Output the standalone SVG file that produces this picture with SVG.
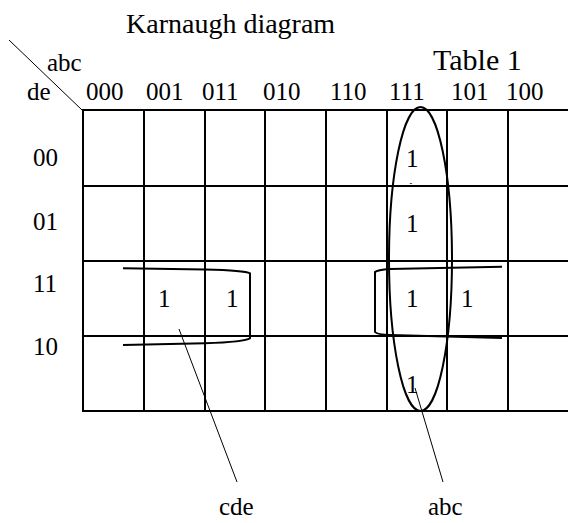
<svg xmlns="http://www.w3.org/2000/svg" width="568" height="523" viewBox="0 0 568 523">
  <style>
    text { font-family: "Liberation Serif", "Times New Roman", serif; fill: #000; }
    .lbl { font-size: 25px; }
    .title { font-size: 28px; }
    .grid line { stroke: #000; stroke-width: 2; }
    .loop { fill: none; stroke: #000; stroke-width: 2; }
    .leader { stroke: #000; stroke-width: 1; }
  </style>
  <defs>
    <clipPath id="tipClip">
      <rect x="395" y="170" width="30" height="14"/>
    </clipPath>
  </defs>
  <rect width="568" height="523" fill="#fff"/>

  <!-- headings -->
  <text class="title" x="126" y="33">Karnaugh diagram</text>
  <text class="title" x="433" y="70" style="font-size:30px">Table 1</text>

  <!-- corner: variable names split by a diagonal -->
  <line class="leader" x1="9" y1="40" x2="82" y2="110"/>
  <text class="lbl" x="47" y="71">abc</text>
  <text class="lbl" x="27" y="100">de</text>

  <!-- column labels -->
  <g id="col-labels" class="lbl">
    <text class="lbl" x="86" y="100">000</text>
    <text class="lbl" x="146" y="100">001</text>
    <text class="lbl" x="202" y="100">011</text>
    <text class="lbl" x="263" y="100">010</text>
    <text class="lbl" x="330" y="100">110</text>
    <text class="lbl" x="389" y="100">111</text>
    <text class="lbl" x="451" y="100">101</text>
    <text class="lbl" x="506" y="100">100</text>
  </g>

  <!-- row labels -->
  <g id="row-labels">
    <text class="lbl" x="33" y="166">00</text>
    <text class="lbl" x="33" y="230">01</text>
    <text class="lbl" x="33" y="292">11</text>
    <text class="lbl" x="33" y="355">10</text>
  </g>

  <!-- map grid -->
  <g id="grid" class="grid">
    <line x1="82" y1="110" x2="568" y2="110"/>
    <line x1="82" y1="186" x2="568" y2="186"/>
    <line x1="82" y1="261" x2="568" y2="261"/>
    <line x1="82" y1="336" x2="568" y2="336"/>
    <line x1="82" y1="411" x2="568" y2="411"/>
    <line x1="83" y1="110" x2="83" y2="411"/>
    <line x1="144" y1="110" x2="144" y2="411"/>
    <line x1="205" y1="110" x2="205" y2="411"/>
    <line x1="265" y1="110" x2="265" y2="411"/>
    <line x1="326" y1="110" x2="326" y2="411"/>
    <line x1="387" y1="110" x2="387" y2="411"/>
    <line x1="447" y1="110" x2="447" y2="411"/>
    <line x1="508" y1="110" x2="508" y2="411"/>
  </g>

  <!-- cell values -->
  <g id="cells">
    <text class="lbl" x="406" y="167">1</text>
    <text class="lbl" x="404" y="200" clip-path="url(#tipClip)">1</text>
    <text class="lbl" x="406" y="232">1</text>
    <text class="lbl" x="158" y="307">1</text>
    <text class="lbl" x="226" y="307">1</text>
    <text class="lbl" x="406" y="307">1</text>
    <text class="lbl" x="461" y="307">1</text>
    <text class="lbl" x="406" y="393">1</text>
  </g>

  <!-- groupings and their labels -->
  <g id="connectors">
    <ellipse class="loop" cx="420.5" cy="259" rx="31.5" ry="152"/>
    <path class="loop" d="M123,268.3 L205,269.5 Q245,270.5 250,273.3 L250,338.3 Q245,342 205,343.3 L123,345"/>
    <path class="loop" d="M502,266.7 L390,269 Q377,270 375,272 L375,332 Q377,334.5 390,335 L502,338"/>
    <line class="leader" x1="179" y1="329" x2="237" y2="482"/>
    <line class="leader" x1="415" y1="388" x2="443" y2="482"/>
  </g>

  <g id="group-labels">
    <text class="lbl" x="219" y="515">cde</text>
    <text class="lbl" x="428" y="515">abc</text>
  </g>
</svg>
